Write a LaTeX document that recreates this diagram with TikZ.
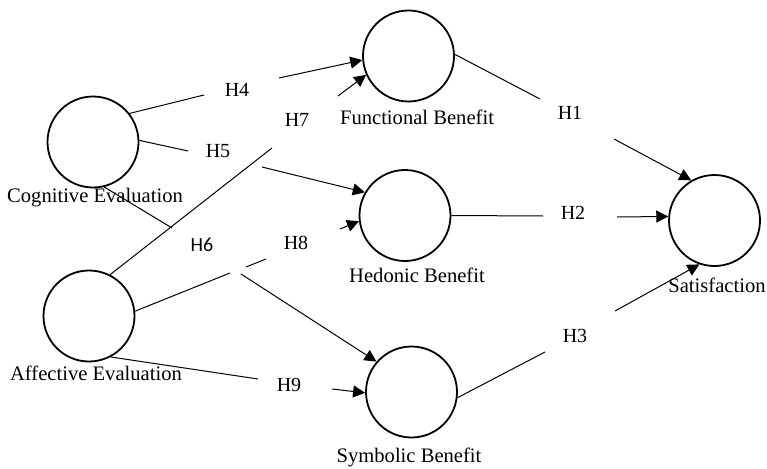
\documentclass[tikz,border=0pt]{standalone}
\usepackage{fontspec}
\setmainfont{Liberation Serif}
\newfontfamily\hsans{Carlito}
\usetikzlibrary{arrows.meta}

\begin{document}
\begin{tikzpicture}[x=1pt,y=-1pt,
    construct/.style ={circle, draw, line width=1.8pt, inner sep = 0pt, minimum size=91pt},
    ctext/.style ={inner sep=0pt, font=\fontsize{20.6}{24}\selectfont},
    hyp/.style ={inner sep=0pt, font=\fontsize{20}{24}\selectfont},
    path/.style ={line width=1pt},
    effect/.style ={line width=1pt, -{Triangle[length=12pt,width=12pt]}}]
   \useasboundingbox (0,0) rectangle (767,468);

   \node[construct] (cog) at (93,142)  {};
   \node[construct] (aff) at (89,316)  {};
   \node[construct] (fun) at (408.5,56)  {};
   \node[construct] (hed) at (405,215.5)  {};
   \node[construct] (sym) at (411.5,392)  {};
   \node[construct] (sat) at (714.5,220.5)  {};

   \node[ctext] (cogtxt) at (95,198) {Cognitive Evaluation};
   \node[ctext] (afftxt) at (96,373) {Affective Evaluation};
   \node[ctext] (funtxt) at (417,117) {Functional Benefit};
   \node[ctext] (hedtxt) at (417,275) {Hedonic Benefit};
   \node[ctext] (symtxt) at (409,457) {Symbolic Benefit};
   \node[ctext] (sattxt) at (717,285) {Satisfaction};

   \node[hyp] (lh1) at (570,113) {H1};
   \node[hyp] (lh2) at (573,213) {H2};
   \node[hyp] (lh3) at (575,336) {H3};
   \node[hyp] (lh4) at (237,90) {H4};
   \node[hyp] (lh5) at (218,151) {H5};
   \node[hyp, font=\hsans\fontsize{20}{24}\selectfont] (lh6) at (202,245) {H6};
   \node[hyp] (lh7) at (297,120) {H7};
   \node[hyp] (lh8) at (296,243) {H8};
   \node[hyp] (lh9) at (289,385) {H9};

   % break points of the paths
   \coordinate (h1a) at (540,99);   \coordinate (h1b) at (614,139);
   \coordinate (h2a) at (543,216);  \coordinate (h2b) at (617,217);
   \coordinate (h3a) at (545,352);  \coordinate (h3b) at (615,311);
   \coordinate (h4a) at (204,95);   \coordinate (h4b) at (279,78);
   \coordinate (h5a) at (188,151);  \coordinate (h5b) at (262,167);
   \coordinate (h6a) at (172,228);  \coordinate (h6b) at (241,274);
   \coordinate (h7a) at (272,148);  \coordinate (h7b) at (338,96);
   \coordinate (h8a) at (230,273);  \coordinate (h8b) at (246,267);
   \coordinate (h8c) at (266,259);  \coordinate (h8d) at (340,229);
   \coordinate (h9a) at (258,379);  \coordinate (h9b) at (332,389);

   \draw[path] (cog.38) to (h4a);
   \draw[effect] (h4b) to (fun.185);
   \draw[path] (cog.2) to (h5a);
   \draw[effect] (h5b) to (hed.150);
   \draw[path] (cog.-76) to (h6a);
   \draw[effect] (h6b) to (sym.139);

   \draw[path] (aff.63) to (h7a);
   \draw[effect] (h7b) to (fun.204);
   \draw[path] (aff.6) to (h8a);
   \draw[path] (h8b) to (h8c);
   \draw[effect] (h8d) to (hed.187);
   \draw[path] (aff.-62) to (h9a);
   \draw[effect] (h9b) to (sym.181);

   \draw[path] (fun.2) to (h1a);
   \draw[effect] (h1b) to (sat.120);
   \draw[path] (hed.0) to (h2a);
   \draw[effect] (h2b) to (sat.175);
   \draw[path] (sym.-7) to (h3a);
   \draw[effect] (h3b) to (sat.251);
 \end{tikzpicture}
\end{document}
